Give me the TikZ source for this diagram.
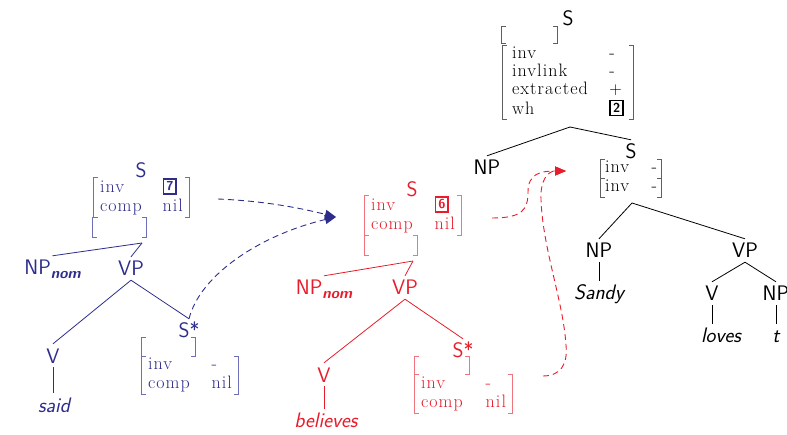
\documentclass[tikz,border=0pt]{standalone}
\usepackage{fontspec}
\usetikzlibrary{arrows.meta}

\definecolor{treeblue}{RGB}{45,45,140}
\definecolor{brblue}{RGB}{110,110,185}
\definecolor{treered}{RGB}{232,28,42}
\definecolor{brred}{RGB}{240,115,125}
\definecolor{brgray}{RGB}{95,95,95}

\newfontfamily\avmrm[LetterSpace=6]{Latin Modern Roman}
\newcommand\labfont{\fontsize{21}{25}\selectfont\sffamily}
\newcommand\avmfont{\avmrm\fontsize{18}{19}\selectfont}
\newcommand\tagbox[1]{\raisebox{1.5pt}{\setlength\fboxrule{1.7pt}\setlength\fboxsep{2pt}\fbox{\fontsize{13}{13}\selectfont\sffamily\bfseries #1}}}
\newcommand\nomsub{\raisebox{-4pt}{\fontsize{15}{15}\selectfont\bfseries\itshape nom}}

% square brackets around an attribute-value node
\newcommand\brackets[2]{%
  \draw[brk,#2] ([xshift=4pt]#1.north west) -- (#1.north west) -- (#1.south west) -- ([xshift=4pt]#1.south west);
  \draw[brk,#2] ([xshift=-4pt]#1.north east) -- (#1.north east) -- (#1.south east) -- ([xshift=-4pt]#1.south east);}

\tikzset{
  lab/.style={font=\labfont, inner sep=4pt, text height=15pt, text depth=0pt, anchor=base},
  word/.style={lab, font=\labfont\itshape, text depth=4.5pt},
  avm/.style={inner sep=0pt, font=\avmfont},
  brk/.style={line width=0.9pt},
  edge/.style={line width=0.8pt},
  link/.style={dash pattern=on 6pt off 4pt, line width=0.9pt, -{Triangle[length=11pt,width=9pt]}},
}

\begin{document}
\begin{tikzpicture}[x=1pt,y=-1pt]
\useasboundingbox (0,0) rectangle (787,435);

% ---------------- auxiliary tree: "said" ----------------
\begin{scope}[text=treeblue]
\node[lab] (bS) at (141,178) {S};
\node[avm, minimum width=95pt, minimum height=39pt] (bavm) at (141.5,197.5)
  {\begin{tabular*}{83pt}{@{}l@{\extracolsep{\fill}}l@{}}inv & \tagbox{7}\\ comp & nil\end{tabular*}};
\node[avm, minimum width=53pt, minimum height=19pt] (be) at (119.5,227.5) {};
\coordinate (bA) at (142,243);
\node[lab] (bNP) at (52.5,275) {NP\nomsub};
\node[lab] (bVP) at (131,276) {VP};
\node[lab] (bV) at (53,363) {V};
\node[lab] (bSs) at (189,338) {S*};
\node[word] (bsaid) at (54,412) {said};
\node[avm, minimum width=53pt, minimum height=18pt] (bse) at (168.5,347) {};
\node[avm, minimum width=96pt, minimum height=37pt] (bsavm) at (190,375.5)
  {\begin{tabular*}{84pt}{@{}l@{\extracolsep{\fill}}l@{}}inv & -\\ comp & nil\end{tabular*}};
\end{scope}
\brackets{bavm}{brblue}
\brackets{be}{brblue}
\brackets{bse}{brblue}
\brackets{bsavm}{brblue}
\begin{scope}[edge, treeblue]
\draw (bA) -- (bNP.north);
\draw (bA) -- (bVP.north);
\draw (bVP.south) -- (bV.north);
\draw (bVP.south) -- (bSs.north);
\draw (bV.south) -- (bV.south |- bsaid.north);
\end{scope}

% ---------------- auxiliary tree: "believes" ----------------
\begin{scope}[text=treered]
\node[lab] (rS) at (412,197) {S};
\node[avm, minimum width=96pt, minimum height=37pt] (ravm) at (413,215.5)
  {\begin{tabular*}{84pt}{@{}l@{\extracolsep{\fill}}l@{}}inv & \tagbox{6}\\ comp & nil\end{tabular*}};
\node[avm, minimum width=52pt, minimum height=19pt] (re) at (391,245.5) {};
\coordinate (rA) at (413,261);
\node[lab] (rNP) at (324,295) {NP\nomsub};
\node[lab] (rVP) at (405,295) {VP};
\node[lab] (rV) at (324,382) {V};
\node[lab] (rSs) at (463,358) {S*};
\node[word] (rbel) at (326,428) {believes};
\node[avm, minimum width=54pt, minimum height=17pt] (rse) at (442,365.5) {};
\node[avm, minimum width=97pt, minimum height=36pt] (rsavm) at (463.5,394)
  {\begin{tabular*}{85pt}{@{}l@{\extracolsep{\fill}}l@{}}inv & -\\ comp & nil\end{tabular*}};
\end{scope}
\brackets{ravm}{brred}
\brackets{re}{brred}
\brackets{rse}{brred}
\brackets{rsavm}{brred}
\begin{scope}[edge, treered]
\draw (rA) -- (rNP.north);
\draw (rA) -- (rVP.north);
\draw (rVP.south) -- (rV.north);
\draw (rVP.south) -- (rSs.north);
\draw (rV.south) -- (rV.south |- rbel.north);
\end{scope}

% ---------------- initial tree: "Sandy loves t" ----------------
\node[lab] (kS) at (568,26) {S};
\node[avm, minimum width=55pt, minimum height=16pt] (ke) at (529.5,35) {};
\node[avm, font=\avmrm\fontsize{18}{18}\selectfont, minimum width=130pt, minimum height=73pt] (kavm) at (568,82.5)
  {\begin{tabular*}{112pt}{@{}l@{\extracolsep{\fill}}l@{}}inv & -\\ invlink & -\\ extracted & $+$\\ wh & \tagbox{2}\end{tabular*}};
\coordinate (kA) at (570,127);
\node[lab] (kNP) at (487,175) {NP};
\node[lab] (kS2) at (631,159) {S};
\node[avm, minimum width=60pt, minimum height=18pt] (kavm1) at (631,169)
  {\begin{tabular*}{52pt}{@{}l@{\extracolsep{\fill}}l@{}}inv & -\end{tabular*}};
\node[avm, minimum width=60pt, minimum height=18pt] (kavm2) at (631,188)
  {\begin{tabular*}{52pt}{@{}l@{\extracolsep{\fill}}l@{}}inv & -\end{tabular*}};
\coordinate (kA2) at (632,203);
\node[lab] (kNP2) at (599,258) {NP};
\node[lab] (kVP) at (745,258) {VP};
\node[word] (ksandy) at (599,300) {Sandy};
\node[lab] (kV) at (712,301) {V};
\node[lab] (kNP3) at (776,301) {NP};
\node[word] (kloves) at (721,343) {loves};
\node[word] (kt) at (776,343) {t};
\brackets{ke}{brgray}
\brackets{kavm}{brgray}
\brackets{kavm1}{brgray}
\brackets{kavm2}{brgray}
\begin{scope}[edge]
\draw (kA) -- (kNP.north);
\draw (kA) -- (kS2.north);
\draw (kA2) -- (kNP2.north);
\draw (kA2) -- (kVP.north);
\draw (kNP2.south) -- (kNP2.south |- ksandy.north);
\draw (kVP.south) -- (kV.north);
\draw (kVP.south) -- (kNP3.north);
\draw (kV.south) -- (kV.south |- kloves.north);
\draw (kNP3.south) -- (kNP3.south |- kt.north);
\end{scope}

% ---------------- adjunction links ----------------
\coordinate (bout) at (218,199);
\coordinate (btip) at (336,217);
\coordinate (rout) at (492,218);
\coordinate (rout2) at (543,376);
\coordinate (rtip) at (566,171);
\draw[link, treeblue] (bout) .. controls (265,201) and (300,208) .. (btip);
\draw[link, treeblue] (bSs.north) .. controls (200,275) and (260,235) .. (btip);
\draw[link, treered] (rout) .. controls (522,218) and (528,210) .. (528,192)
  .. controls (528,174) and (540,171) .. (rtip);
\draw[link, treered] (rout2) .. controls (560,376) and (568,365) .. (566,345)
  .. controls (563,300) and (543,250) .. (541,200)
  .. controls (540,180) and (548,171) .. (rtip);
\end{tikzpicture}
\end{document}
